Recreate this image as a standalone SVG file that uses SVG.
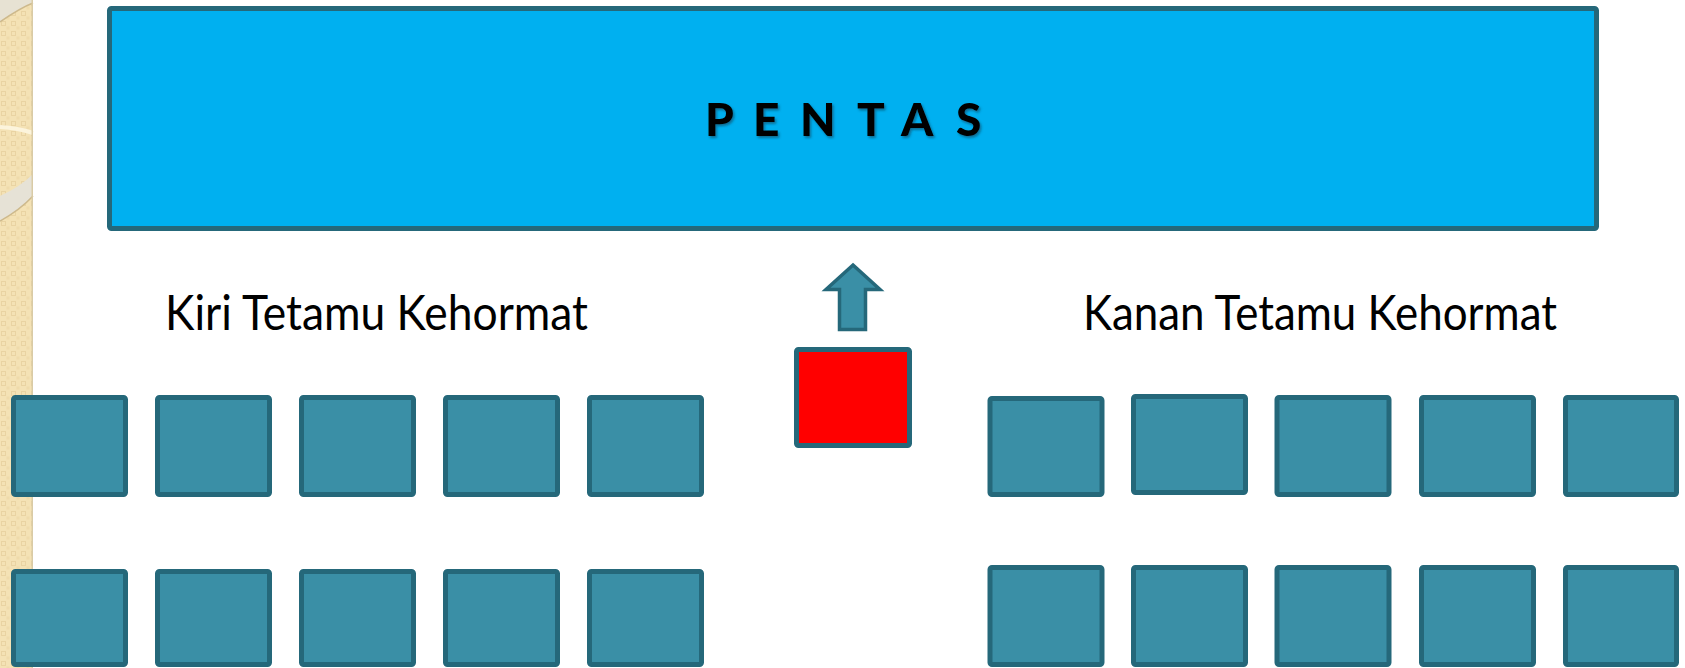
<svg xmlns="http://www.w3.org/2000/svg" width="1685" height="668" viewBox="0 0 1685 668">
  <defs>
    <style>
      .seat { fill: #3A8FA6; stroke: #25687A; stroke-width: 5; }
      .stage { fill: #00B0F0; stroke: #25687A; stroke-width: 5; }
      .red { fill: #FF0000; stroke: #25687A; stroke-width: 5; }
      .lbl { font-family: "Lato", "Liberation Sans", sans-serif; font-size: 48px; fill: #000000; }
      .title { font-family: "Lato", "Liberation Sans", sans-serif; font-size: 46px; font-weight: 900; fill: #000000; }
    </style>
    <pattern id="chk" width="10" height="10" patternUnits="userSpaceOnUse">
      <rect width="10" height="10" fill="#F4E2B5"/>
      <rect x="1.5" y="1.5" width="4" height="4" fill="none" stroke="#E9D3A2" stroke-width="1"/>
      <rect x="6.5" y="6.5" width="3" height="3" fill="#EFDBAB"/>
    </pattern>
    <filter id="shadow" x="-10%" y="-20%" width="120%" height="150%">
      <feDropShadow dx="1.5" dy="2" stdDeviation="1" flood-color="#0A3A50" flood-opacity="0.55"/>
    </filter>
  </defs>

  <rect width="1685" height="668" fill="#FFFFFF"/>

  <!-- decorative left strip -->
  <g id="background-strip">
    <rect x="0" y="0" width="33" height="668" fill="url(#chk)"/>
    <path d="M0,0 L33,0 L33,3 Q20,8 0,22 Z" fill="#E7E2D3"/>
    <path d="M0,22 Q20,8 33,3" fill="none" stroke="#CDB98C" stroke-width="1.5"/>
    <path d="M0,127 Q18,128 33,133" fill="none" stroke="#FCF4DC" stroke-width="4"/>
    <path d="M0,196 Q20,187 33,174 L33,196 Q20,210 0,221 Z" fill="#E6E2D6"/>
    <path d="M0,221 Q20,210 33,196" fill="none" stroke="#CDB98C" stroke-width="1.5"/>
    <rect x="31.5" y="0" width="1.5" height="668" fill="#D9CBA6"/>
  </g>

  <g id="pentas">
    <rect class="stage" x="109.5" y="8.5" width="1487" height="220" rx="2"/>
    <text class="title" x="705 753 800 857 901 956" y="136" filter="url(#shadow)">PENTAS</text>
  </g>

  <g id="connectors">
    <g id="arrow">
      <polygon points="853,265 880,289.5 865.5,289.5 865.5,329.5 839.5,329.5 839.5,289.5 826,289.5" fill="#3A8FA6" stroke="#25687A" stroke-width="3.5" stroke-linejoin="miter"/>
    </g>
  </g>

  <g id="vip-seat">
    <rect class="red" x="796.5" y="349.5" width="113" height="96" rx="2"/>
  </g>

  <g id="label-kiri">
    <text class="lbl" x="165" y="330" textLength="423" lengthAdjust="spacingAndGlyphs">Kiri Tetamu Kehormat</text>
  </g>
  <g id="label-kanan">
    <text class="lbl" x="1083" y="330" textLength="474" lengthAdjust="spacingAndGlyphs">Kanan Tetamu Kehormat</text>
  </g>

  <g id="kiri-row1">
    <g id="kiri-1-1"><rect class="seat" x="13.5" y="397.5" width="112" height="97" rx="2"/></g>
    <g id="kiri-1-2"><rect class="seat" x="157.5" y="397.5" width="112" height="97" rx="2"/></g>
    <g id="kiri-1-3"><rect class="seat" x="301.5" y="397.5" width="112" height="97" rx="2"/></g>
    <g id="kiri-1-4"><rect class="seat" x="445.5" y="397.5" width="112" height="97" rx="2"/></g>
    <g id="kiri-1-5"><rect class="seat" x="589.5" y="397.5" width="112" height="97" rx="2"/></g>
  </g>
  <g id="kiri-row2">
    <g id="kiri-2-1"><rect class="seat" x="13.5" y="571.5" width="112" height="93" rx="2"/></g>
    <g id="kiri-2-2"><rect class="seat" x="157.5" y="571.5" width="112" height="93" rx="2"/></g>
    <g id="kiri-2-3"><rect class="seat" x="301.5" y="571.5" width="112" height="93" rx="2"/></g>
    <g id="kiri-2-4"><rect class="seat" x="445.5" y="571.5" width="112" height="93" rx="2"/></g>
    <g id="kiri-2-5"><rect class="seat" x="589.5" y="571.5" width="112" height="93" rx="2"/></g>
  </g>

  <g id="kanan-row1">
    <g id="kanan-1-1"><rect class="seat" x="990" y="398.5" width="112" height="96" rx="2"/></g>
    <g id="kanan-1-2"><rect class="seat" x="1133.5" y="396.5" width="112" height="96" rx="2"/></g>
    <g id="kanan-1-3"><rect class="seat" x="1277" y="397.5" width="112" height="97" rx="2"/></g>
    <g id="kanan-1-4"><rect class="seat" x="1421.5" y="397.5" width="112" height="97" rx="2"/></g>
    <g id="kanan-1-5"><rect class="seat" x="1565.5" y="397.5" width="111" height="97" rx="2"/></g>
  </g>
  <g id="kanan-row2">
    <g id="kanan-2-1"><rect class="seat" x="990" y="567.5" width="112" height="97" rx="2"/></g>
    <g id="kanan-2-2"><rect class="seat" x="1133.5" y="567.5" width="112" height="97" rx="2"/></g>
    <g id="kanan-2-3"><rect class="seat" x="1277" y="567.5" width="112" height="97" rx="2"/></g>
    <g id="kanan-2-4"><rect class="seat" x="1421.5" y="567.5" width="112" height="97" rx="2"/></g>
    <g id="kanan-2-5"><rect class="seat" x="1565.5" y="567.5" width="111" height="97" rx="2"/></g>
  </g>
</svg>
